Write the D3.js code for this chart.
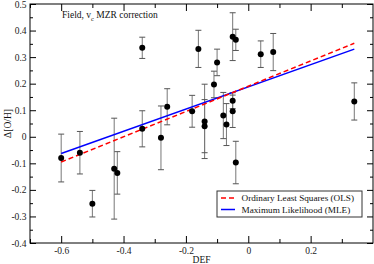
<!DOCTYPE html>
<html>
<head>
<meta charset="utf-8">
<script src="https://cdn.jsdelivr.net/npm/d3@7"></script>
<style>
  body { margin: 0; background: #fff; }
  svg text { font-family: "Liberation Serif", "Times New Roman", Times, serif; }
</style>
</head>
<body>
<svg id="chart" width="374" height="264"></svg>
<script>
// data
const def_x = [-0.60, -0.54, -0.50, -0.43, -0.42, -0.34, -0.34, -0.28, -0.26, -0.18,
               -0.16, -0.14, -0.14, -0.11, -0.10, -0.08, -0.07, -0.05, -0.04, -0.05,
               -0.05, -0.04, 0.04, 0.08, 0.34];
const doh_y = [-0.080, -0.060, -0.252, -0.120, -0.136, 0.335, 0.030, -0.004, 0.113, 0.096,
               0.331, 0.058, 0.040, 0.197, 0.280, 0.080, 0.046, 0.377, 0.365, 0.136,
               0.096, -0.097, 0.311, 0.319, 0.133];
const doh_err = [0.09, 0.08, 0.05, 0.19, 0.08, 0.04, 0.068, 0.12, 0.068, 0.06,
                 0.07, 0.14, 0.10, 0.05, 0.05, 0.087, 0.079, 0.09, 0.04, 0.03,
                 0.061, 0.08, 0.05, 0.07, 0.07];

const fit_x = [-0.6, 0.34];
const ols_y = [-0.095, 0.352];
const mle_y = [-0.063, 0.330];

const x_ticks = [-0.6, -0.4, -0.2, 0, 0.2];
const x_minor = [-0.7, -0.5, -0.3, -0.1, 0.1, 0.3];
const y_ticks = [-0.4, -0.3, -0.2, -0.1, 0, 0.1, 0.2, 0.3, 0.4, 0.5];
const y_minor = [-0.35, -0.25, -0.15, -0.05, 0.05, 0.15, 0.25, 0.35, 0.45];

const legend_labels = ["Ordinary Least Squares (OLS)", "Maximum Likelihood (MLE)"];

const svg = d3.select("#chart");
const m_left = 30, m_right = 373, m_top = 4, m_bottom = 243;
const serif = "'Liberation Serif', 'Times New Roman', Times, serif";

const x = d3.scaleLinear().domain([-0.7, 0.4]).range([m_left, m_right]);
const y = d3.scaleLinear().domain([-0.4, 0.5]).range([m_bottom, m_top]);

const fmt = d => d === 0 ? "0" : d3.format(".1f")(d).replace("−", "-");

// axes, ticks pointing inward on all four sides
function addAxis(axis, tx, ty, labels) {
  const g = svg.append("g").attr("transform", `translate(${tx},${ty})`).call(axis);
  g.attr("font-family", serif);
  g.select(".domain").remove();
  g.selectAll("line").attr("stroke", "#000");
  g.selectAll("text").attr("fill", "#222").style("font-size", "9.5px")
    .style("font-family", serif);
  if (!labels) g.selectAll("text").remove();
  return g;
}

addAxis(d3.axisBottom(x).tickValues(x_ticks).tickSize(-7).tickPadding(4).tickFormat(fmt), 0, m_bottom, true);
addAxis(d3.axisBottom(x).tickValues(x_minor).tickSize(-4), 0, m_bottom, false);
addAxis(d3.axisTop(x).tickValues(x_ticks).tickSize(-7), 0, m_top, false);
addAxis(d3.axisTop(x).tickValues(x_minor).tickSize(-4), 0, m_top, false);
addAxis(d3.axisLeft(y).tickValues(y_ticks).tickSize(-6).tickPadding(3.5).tickFormat(fmt), m_left, 0, true);
addAxis(d3.axisLeft(y).tickValues(y_minor).tickSize(-3), m_left, 0, false);
addAxis(d3.axisRight(y).tickValues(y_ticks).tickSize(-6), m_right, 0, false);
addAxis(d3.axisRight(y).tickValues(y_minor).tickSize(-3), m_right, 0, false);

svg.append("rect")
  .attr("x", m_left).attr("y", m_top)
  .attr("width", m_right - m_left).attr("height", m_bottom - m_top)
  .attr("fill", "none").attr("stroke", "#000").attr("stroke-width", 1);

// error bars
const pts = def_x.map((d, i) => ({x: d, y: doh_y[i], e: doh_err[i]}));
const eb = svg.append("g").attr("stroke", "#777").attr("stroke-width", 1);
eb.selectAll("line.v").data(pts).enter().append("line")
  .attr("x1", d => x(d.x)).attr("x2", d => x(d.x))
  .attr("y1", d => y(d.y + d.e)).attr("y2", d => y(d.y - d.e));
eb.selectAll("line.t").data(pts).enter().append("line")
  .attr("stroke", "#555")
  .attr("x1", d => x(d.x) - 3).attr("x2", d => x(d.x) + 3)
  .attr("y1", d => y(d.y + d.e)).attr("y2", d => y(d.y + d.e));
eb.selectAll("line.b").data(pts).enter().append("line")
  .attr("stroke", "#555")
  .attr("x1", d => x(d.x) - 3).attr("x2", d => x(d.x) + 3)
  .attr("y1", d => y(d.y - d.e)).attr("y2", d => y(d.y - d.e));

// fit lines
const line = d3.line().x(d => x(d[0])).y(d => y(d[1]));
svg.append("path")
  .datum(fit_x.map((d, i) => [d, mle_y[i]]))
  .attr("d", line).attr("fill", "none")
  .attr("stroke", "#0000ff").attr("stroke-width", 1.5);
svg.append("path")
  .datum(fit_x.map((d, i) => [d, ols_y[i]]))
  .attr("d", line).attr("fill", "none")
  .attr("stroke", "#ff0000").attr("stroke-width", 1.5)
  .attr("stroke-dasharray", "5,3");

// points
svg.append("g").selectAll("circle").data(pts).enter().append("circle")
  .attr("cx", d => x(d.x)).attr("cy", d => y(d.y))
  .attr("r", 3).attr("fill", "#000");

// title inside plot
const title = svg.append("text").attr("x", 62).attr("y", 18)
  .style("font-size", "9.5px").attr("fill", "#111");
title.append("tspan").text("Field, v");
title.append("tspan").attr("dy", 3).style("font-size", "6.5px").text("c");
title.append("tspan").attr("dy", -3).text(" MZR correction");

// axis labels
svg.append("text").attr("x", (m_left + m_right) / 2).attr("y", 263)
  .attr("text-anchor", "middle").style("font-size", "9.5px").attr("fill", "#111")
  .text("DEF");
svg.append("text")
  .attr("transform", `translate(10.5,${(m_top + m_bottom) / 2}) rotate(-90)`)
  .attr("text-anchor", "middle").style("font-size", "9.5px").attr("fill", "#111")
  .text("Δ[O/H]");

// legend
const lg = svg.append("g").attr("transform", "translate(217,191)");
lg.append("rect").attr("width", 145).attr("height", 26)
  .attr("fill", "#fff").attr("stroke", "#333").attr("stroke-width", 1);
const legendStyles = [{c: "#ff0000", dash: "5,3"}, {c: "#0000ff", dash: null}];
legend_labels.forEach((lab, i) => {
  const yy = 7 + i * 11.5;
  lg.append("line").attr("x1", 4).attr("x2", 18).attr("y1", yy).attr("y2", yy)
    .attr("stroke", legendStyles[i].c).attr("stroke-width", 1.5)
    .attr("stroke-dasharray", legendStyles[i].dash);
  lg.append("text").attr("x", 24.5).attr("y", yy + 3.2)
    .style("font-size", "9.2px").attr("fill", "#111").text(lab);
});
</script>
</body>
</html>
